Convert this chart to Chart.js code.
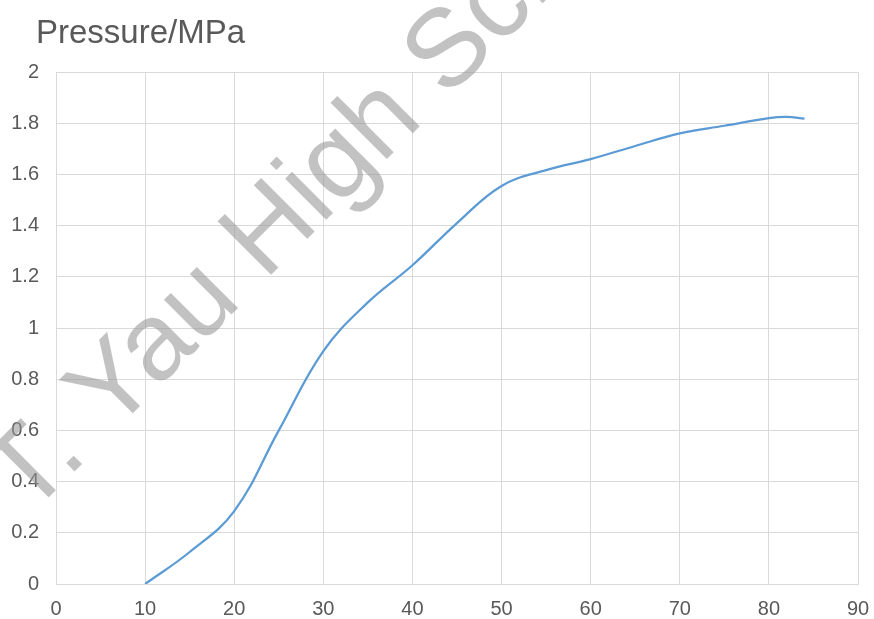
<!DOCTYPE html>
<html>
<head>
<meta charset="utf-8">
<script src="https://cdn.jsdelivr.net/npm/chart.js@4.4.1/dist/chart.umd.min.js"></script>
<style>
    html, body { margin: 0; padding: 0; background: #ffffff; }
    #wrap { width: 874px; height: 619px; }
</style>
</head>
<body>
<div id="wrap"><canvas id="pressureChart" width="874" height="619"></canvas></div>
<script>
// values
const xValues = [10, 15, 20, 25, 30, 35, 40, 45, 50, 55, 60, 65, 70, 75, 80, 82, 84];
const pressureValues = [0, 0.125, 0.285, 0.6, 0.91, 1.1, 1.245, 1.41, 1.555, 1.617, 1.66, 1.711, 1.76, 1.79, 1.82, 1.825, 1.818];
const xTicks = [0, 10, 20, 30, 40, 50, 60, 70, 80, 90];
const yTicks = [0, 0.2, 0.4, 0.6, 0.8, 1, 1.2, 1.4, 1.6, 1.8, 2];
const titleText = 'Pressure/MPa';
const watermarkText = 'T. Yau High School';

const gridColor = '#d9d9d9';
const textColor = '#595959';
const fontFamily = '"Liberation Sans", Arial, sans-serif';

// Title in the top-left corner and the school watermark
const decorations = {
    id: 'decorations',
    beforeDatasetsDraw(chart) {
        const ctx = chart.ctx;
        ctx.save();
        ctx.font = '110px ' + fontFamily;
        ctx.fillStyle = 'rgba(150, 150, 150, 0.58)';
        ctx.textBaseline = 'alphabetic';
        ctx.translate(76, 470);
        ctx.rotate(-Math.PI / 4);
        const tWidth = ctx.measureText('T').width;
        ctx.fillText(watermarkText, -tWidth, 0);
        ctx.restore();
    },
    afterDraw(chart) {
        const ctx = chart.ctx;
        ctx.save();
        ctx.font = '33px ' + fontFamily;
        ctx.fillStyle = textColor;
        ctx.textBaseline = 'alphabetic';
        ctx.fillText(titleText, 36, 43);
        ctx.restore();
    }
};

const ctx = document.getElementById('pressureChart').getContext('2d');
new Chart(ctx, {
    type: 'line',
    data: {
        datasets: [{
            label: 'Pressure',
            data: xValues.map((x, i) => ({ x: x, y: pressureValues[i] })),
            borderColor: '#5b9bd5',
            borderWidth: 2.25,
            pointRadius: 0,
            fill: false,
            tension: 0.4
        }]
    },
    options: {
        responsive: false,
        animation: false,
        layout: { padding: { top: 72, right: 16, left: 0, bottom: 0 } },
        plugins: {
            legend: { display: false },
            tooltip: { enabled: false }
        },
        scales: {
            x: {
                type: 'linear',
                min: xTicks[0],
                max: xTicks[xTicks.length - 1],
                afterBuildTicks: axis => { axis.ticks = xTicks.map(v => ({ value: v })); },
                afterFit: axis => {
                    axis.height = 35;
                    axis.paddingLeft = 0;
                    axis.paddingRight = 0;
                },
                grid: { color: gridColor, lineWidth: 1, drawTicks: false },
                border: { color: gridColor, width: 1 },
                ticks: {
                    color: textColor,
                    font: { family: fontFamily, size: 20 },
                    padding: 13,
                    maxRotation: 0,
                    callback: v => String(v)
                }
            },
            y: {
                min: yTicks[0],
                max: yTicks[yTicks.length - 1],
                afterBuildTicks: axis => { axis.ticks = yTicks.map(v => ({ value: v })); },
                afterFit: axis => { axis.width = 56; },
                grid: { color: gridColor, lineWidth: 1, drawTicks: false },
                border: { color: gridColor, width: 1 },
                ticks: {
                    color: textColor,
                    font: { family: fontFamily, size: 20 },
                    padding: 17,
                    callback: v => String(+Number(v).toFixed(1))
                }
            }
        }
    },
    plugins: [decorations]
});
</script>
</body>
</html>
